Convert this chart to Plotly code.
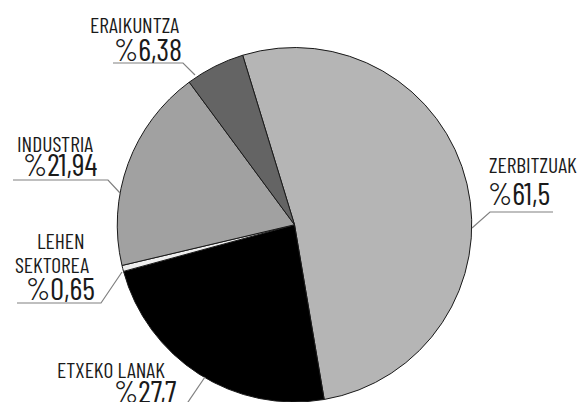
import plotly.graph_objects as go

# ---- data ----
categories = ["ZERBITZUAK", "ETXEKO LANAK", "LEHEN SEKTOREA", "INDUSTRIA", "ERAIKUNTZA"]
values = [61.5, 27.7, 0.65, 21.94, 6.38]
pct_labels = ["%61,5", "%27,7", "%0,65", "%21,94", "%6,38"]
name_lines = [["ZERBITZUAK"], ["ETXEKO LANAK"], ["LEHEN", "SEKTOREA"], ["INDUSTRIA"], ["ERAIKUNTZA"]]

colors = ["#b5b5b5", "#000000", "#eeeeee", "#a1a1a1", "#646464"]

W, H = 580, 402
FONT = "Barlow Condensed, DejaVu Sans, sans-serif"

def px(x):
    return x / W

def py(y):
    return 1 - y / H

def cond(t):
    return f'<span style="font-stretch:condensed">{t}</span>'

fig = go.Figure(go.Pie(
    labels=categories, values=values, sort=False, direction="clockwise",
    rotation=-17, textinfo="none", hoverinfo="label+value",
    marker=dict(colors=colors, line=dict(color="#1a1a1a", width=1)),
    domain=dict(x=[117 / W, 472 / W], y=[0, 354.5 / H]),
    showlegend=False,
))

# label layout (pixel positions): name line left x / mid y, pct left x / mid y, leader polyline
label_layout = {
    "ZERBITZUAK": dict(names=[(487, 164.5)], pct=(486, 192),
                       line=[(472, 228), (490, 212), (553, 212)]),
    "ETXEKO LANAK": dict(names=[(55, 368.5)], pct=(112, 390),
                         line=[(205, 377), (186, 405)]),
    "LEHEN SEKTOREA": dict(names=[(35, 240), (13, 263.5)], pct=(24, 287),
                           line=[(17, 303), (101, 303), (122, 272)]),
    "INDUSTRIA": dict(names=[(15, 142.5)], pct=(21, 164),
                      line=[(13, 180), (108, 180), (120, 193)]),
    "ERAIKUNTZA": dict(names=[(88, 23.5)], pct=(112, 48),
                       line=[(113, 63), (183, 63), (195, 75)]),
}

annotations = []
shapes = []
for cat, names, pct in zip(categories, name_lines, pct_labels):
    lay = label_layout[cat]
    for txt, (x, y) in zip(names, lay["names"]):
        annotations.append(dict(x=px(x), y=py(y), xref="paper", yref="paper", text=cond(txt),
                                showarrow=False, xanchor="left", yanchor="middle",
                                font=dict(family=FONT, size=21.5, color="#1a1a1a")))
    x, y = lay["pct"]
    annotations.append(dict(x=px(x), y=py(y), xref="paper", yref="paper", text=cond(pct),
                            showarrow=False, xanchor="left", yanchor="middle",
                            font=dict(family=FONT, size=31, color="#1a1a1a")))
    pts = lay["line"]
    path = "M " + " L ".join(f"{px(a)},{py(b)}" for a, b in pts)
    shapes.append(dict(type="path", path=path, xref="paper", yref="paper",
                       line=dict(color="#808080", width=1.2)))

fig.update_layout(
    width=W, height=H, margin=dict(l=0, r=0, t=0, b=0),
    paper_bgcolor="white", plot_bgcolor="white",
    annotations=annotations, shapes=shapes,
)

fig.write_html("out.html", config={"displayModeBar": False},
               post_script="document.body.style.margin='0';")
